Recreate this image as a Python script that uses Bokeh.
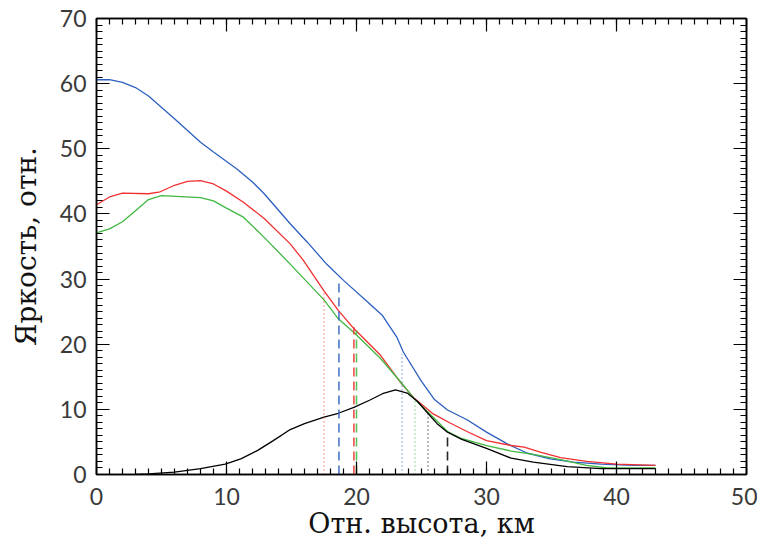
from bokeh.plotting import figure
from bokeh.models import Range1d, LinearAxis, SingleIntervalTicker, CustomJSTickFormatter
from bokeh.embed import file_html
from bokeh.resources import INLINE

# --- data ---
x_blue = [0, 1, 2, 3, 4, 6, 8, 9, 10.8, 12, 12.9, 14.9, 16.2, 17.7, 19, 20.9, 22, 23.1, 23.6,
          25, 26, 27, 28.5, 30, 31.6, 33.1, 34.9, 36.7, 38.8, 41.3, 43]
y_blue = [60.6, 60.6, 60.2, 59.4, 58.1, 54.6, 51.0, 49.5, 46.9, 44.9, 43.1, 38.5, 35.7, 32.3, 29.8,
          26.4, 24.4, 21.1, 18.8, 14.3, 11.5, 9.9, 8.4, 6.5, 4.7, 3.3, 2.4, 1.9, 1.6, 1.4, 1.4]

x_red = [0, 1, 2, 4, 4.9, 6, 7, 8, 9, 10, 11.3, 12.9, 14.9, 15.9, 17.5, 18.6, 19.8, 21.85, 23.4,
         24.4, 25.9, 27.2, 28.5, 30, 31.9, 32.9, 34.2, 35.7, 37.7, 40, 43]
y_red = [41.4, 42.6, 43.2, 43.1, 43.4, 44.4, 45.0, 45.1, 44.6, 43.5, 41.8, 39.3, 35.4, 32.9, 28.2,
         25.2, 22.4, 18.3, 14.1, 11.8, 9.3, 7.9, 6.6, 5.2, 4.45, 4.2, 3.4, 2.6, 2.0, 1.6, 1.4]

x_green = [0, 1, 2, 3, 4, 5, 8, 9, 10, 11.3, 12.9, 14.9, 17.5, 18.6, 19.9, 21.85, 23.4, 24.5,
           25.9, 27, 28, 30, 31.9, 33.6, 35.7, 37.7, 39.3, 43]
y_green = [37.1, 37.7, 38.8, 40.5, 42.2, 42.8, 42.5, 42.0, 40.9, 39.5, 36.4, 32.3, 26.8, 23.9,
           21.6, 17.8, 14.2, 11.5, 8.8, 6.6, 5.6, 4.45, 3.6, 3.1, 2.3, 1.4, 1.0, 1.0]

x_black = [3, 4, 6, 8, 9.9, 11.1, 12.4, 13.6, 14.9, 16, 17.5, 18.6, 19.8, 21, 22, 23, 23.9, 24.7,
           25.4, 26.2, 27, 28.1, 30, 31.9, 33.6, 36.2, 38.8, 43]
y_black = [0, 0.1, 0.35, 0.9, 1.6, 2.4, 3.7, 5.2, 6.9, 7.8, 8.8, 9.4, 10.3, 11.4, 12.4, 13.0, 12.5,
           11.2, 9.6, 7.8, 6.5, 5.4, 4.0, 2.5, 1.9, 1.2, 0.9, 0.9]

# vertical marker lines: position and height
dash_x = [18.65, 19.8, 20.0, 27.0]
dash_top = [29.8, 22.6, 22.1, 6.3]
dot_x = [17.5, 23.5, 24.5, 25.5]
dot_top = [28.2, 18.5, 11.6, 9.3]

x_title = "Отн. высота, км"
y_title = "Яркость, отн."

BLUE = "#2d5fc0"
RED = "#f03030"
GREEN = "#40b840"
BLACK = "#000000"
dash_colors = [BLUE, RED, GREEN, BLACK]
dot_colors = [RED, BLUE, GREEN, BLACK]

p = figure(width=757, height=541, output_backend="svg", toolbar_location=None,
           x_range=Range1d(0, 50), y_range=Range1d(0, 70),
           x_axis_location=None, y_axis_location=None,
           min_border_left=96, min_border_right=11, min_border_top=18, min_border_bottom=67)
p.background_fill_color = "white"
p.border_fill_color = "white"
p.outline_line_color = "black"
p.outline_line_width = 1.5
p.xgrid.visible = False
p.ygrid.visible = False

LABEL_FONT = "Lato"
TITLE_FONT = "DejaVu Serif"


def make_axis(labels=True, title=None):
    ax = LinearAxis(ticker=SingleIntervalTicker(interval=10, num_minor_ticks=10))
    ax.axis_line_color = "black"
    ax.axis_line_width = 1.5
    ax.major_tick_in = 13
    ax.major_tick_out = 0
    ax.minor_tick_in = 6
    ax.minor_tick_out = 0
    ax.major_tick_line_color = "black"
    ax.minor_tick_line_color = "black"
    ax.major_tick_line_width = 1.2
    ax.minor_tick_line_width = 1.2
    if labels:
        ax.major_label_text_font = LABEL_FONT
        ax.major_label_text_font_size = "23px"
        ax.major_label_text_color = "#3a3a3a"
    else:
        ax.formatter = CustomJSTickFormatter(code="return ''")
        ax.major_label_standoff = 0
    if title:
        ax.axis_label = title
        ax.axis_label_text_font = TITLE_FONT
        ax.axis_label_text_font_size = "27px"
        ax.axis_label_text_font_style = "normal"
        ax.axis_label_text_color = "#111111"
    return ax


xb = make_axis(True, x_title)
xb.major_label_standoff = 13
xb.axis_label_standoff = 0
p.add_layout(xb, "below")

yl = make_axis(True, y_title)
yl.axis_label_text_font_size = "28px"
yl.major_label_standoff = 10
yl.axis_label_standoff = 14
p.add_layout(yl, "left")

p.add_layout(make_axis(False), "above")
p.add_layout(make_axis(False), "right")

p.line(x_blue, y_blue, line_color=BLUE, line_width=1.3)
p.line(x_red, y_red, line_color=RED, line_width=1.3)
p.line(x_green, y_green, line_color=GREEN, line_width=1.3)
p.line(x_black, y_black, line_color=BLACK, line_width=1.3)

p.segment(x0=dash_x, y0=[0] * len(dash_x), x1=dash_x, y1=dash_top,
          line_color=dash_colors, line_width=1.6, line_dash="9 5", line_alpha=0.85)
p.segment(x0=dot_x, y0=[0] * len(dot_x), x1=dot_x, y1=dot_top,
          line_color=dot_colors, line_width=1.2, line_dash="1 3", line_alpha=0.9)

open("out.html", "w").write(file_html(p, INLINE))
